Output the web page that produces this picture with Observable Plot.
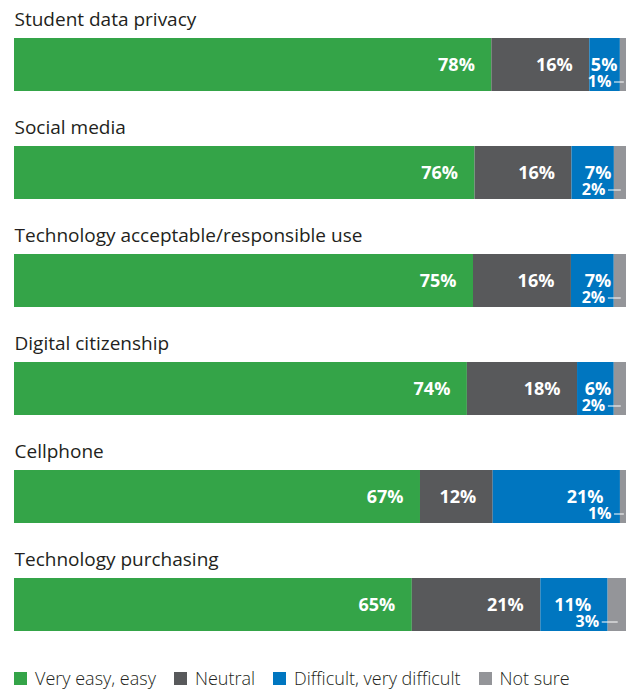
<!DOCTYPE html>
<html>
<head>
<meta charset="utf-8">
<script src="https://cdn.jsdelivr.net/npm/d3@7"></script>
<script src="https://cdn.jsdelivr.net/npm/@observablehq/plot@0.6"></script>
<style>
  html, body { margin: 0; padding: 0; background: #fff; }
  #legend { display: flex; align-items: center; height: 24px; margin-left: 14px;
    font-family: "Open Sans", sans-serif; font-size: 18px; font-weight: 300; color: #231f20; }
  #legend .item { display: flex; align-items: center; margin-right: 18px; }
  #legend .sw { width: 13px; height: 13px; margin-right: 8px; }
</style>
</head>
<body>
<div id="chart"></div>
<div id="legend"></div>
<script>
const categories = [
  "Student data privacy",
  "Social media",
  "Technology acceptable/responsible use",
  "Digital citizenship",
  "Cellphone",
  "Technology purchasing"
];
const responses = ["Very easy, easy", "Neutral", "Difficult, very difficult", "Not sure"];
const veryEasy  = [78, 76, 75, 74, 67, 65];
const neutral   = [16, 16, 16, 18, 12, 21];
const difficult = [5, 7, 7, 6, 21, 11];
const notSure   = [1, 2, 2, 2, 1, 3];
const colors = ["#34a448", "#58595b", "#0076c0", "#949599"];

const series = [veryEasy, neutral, difficult, notSure];
const data = categories.flatMap((c, i) =>
  responses.map((r, j) => ({category: c, response: r, value: series[j][i]})));

// leader lines for the small "Not sure" labels
const leaders = categories.map((c, i) => {
  const total = veryEasy[i] + neutral[i] + difficult[i] + notSure[i];
  const start = (veryEasy[i] + neutral[i] + difficult[i]) / total;
  return {category: c, x1: start, x2: start + notSure[i] / total / 2};
});

const stackOpts = {x: "value", y: "category", z: "response", order: responses, offset: "normalize"};
const labelFont = {fill: "white", fontSize: 18, fontWeight: 700, fontFamily: "Open Sans"};
const isMain = d => d.response !== "Not sure";

const plot = Plot.plot({
  width: 630,
  height: 666,
  marginLeft: 14,
  marginRight: 4,
  marginTop: 0,
  marginBottom: 18,
  style: {fontFamily: "Open Sans", background: "white"},
  x: {axis: null, domain: [0, 1]},
  y: {axis: null, domain: categories, padding: 0},
  color: {domain: responses, range: colors},
  marks: [
    Plot.barX(data, Plot.stackX({...stackOpts, fill: "response", insetTop: 38, insetBottom: 17})),
    Plot.text(categories, {
      x: () => 0, y: d => d, text: d => d, textAnchor: "start", lineAnchor: "middle",
      dy: -35, fontSize: 19, fill: "#231f20", fontFamily: "Open Sans"
    }),
    Plot.text(data, Plot.stackX2({...stackOpts,
      text: d => (isMain(d) && d.value >= 10 ? d.value + "%" : null),
      textAnchor: "end", dx: -17, dy: 10.5, lineAnchor: "middle", ...labelFont})),
    Plot.text(data, Plot.stackX2({...stackOpts,
      text: d => (isMain(d) && d.value < 10 ? d.value + "%" : null),
      textAnchor: "end", dx: -3, dy: 10.5, lineAnchor: "middle", ...labelFont})),
    Plot.text(data, Plot.stackX1({...stackOpts,
      text: d => (!isMain(d) ? d.value + "%" : null),
      textAnchor: "end", dx: -9, dy: 27, lineAnchor: "middle", ...labelFont, fontSize: 16})),
    Plot.arrow(leaders, {
      x1: "x1", x2: "x2", y1: "category", y2: "category", dy: 27.5,
      stroke: "white", strokeWidth: 1, headLength: 0, insetStart: -6
    })
  ]
});
document.getElementById("chart").append(plot);

const legend = document.getElementById("legend");
responses.forEach((r, j) => {
  const item = document.createElement("div");
  item.className = "item";
  const sw = document.createElement("div");
  sw.className = "sw";
  sw.style.background = colors[j];
  const label = document.createElement("span");
  label.textContent = r;
  item.append(sw, label);
  legend.append(item);
});
</script>
</body>
</html>
